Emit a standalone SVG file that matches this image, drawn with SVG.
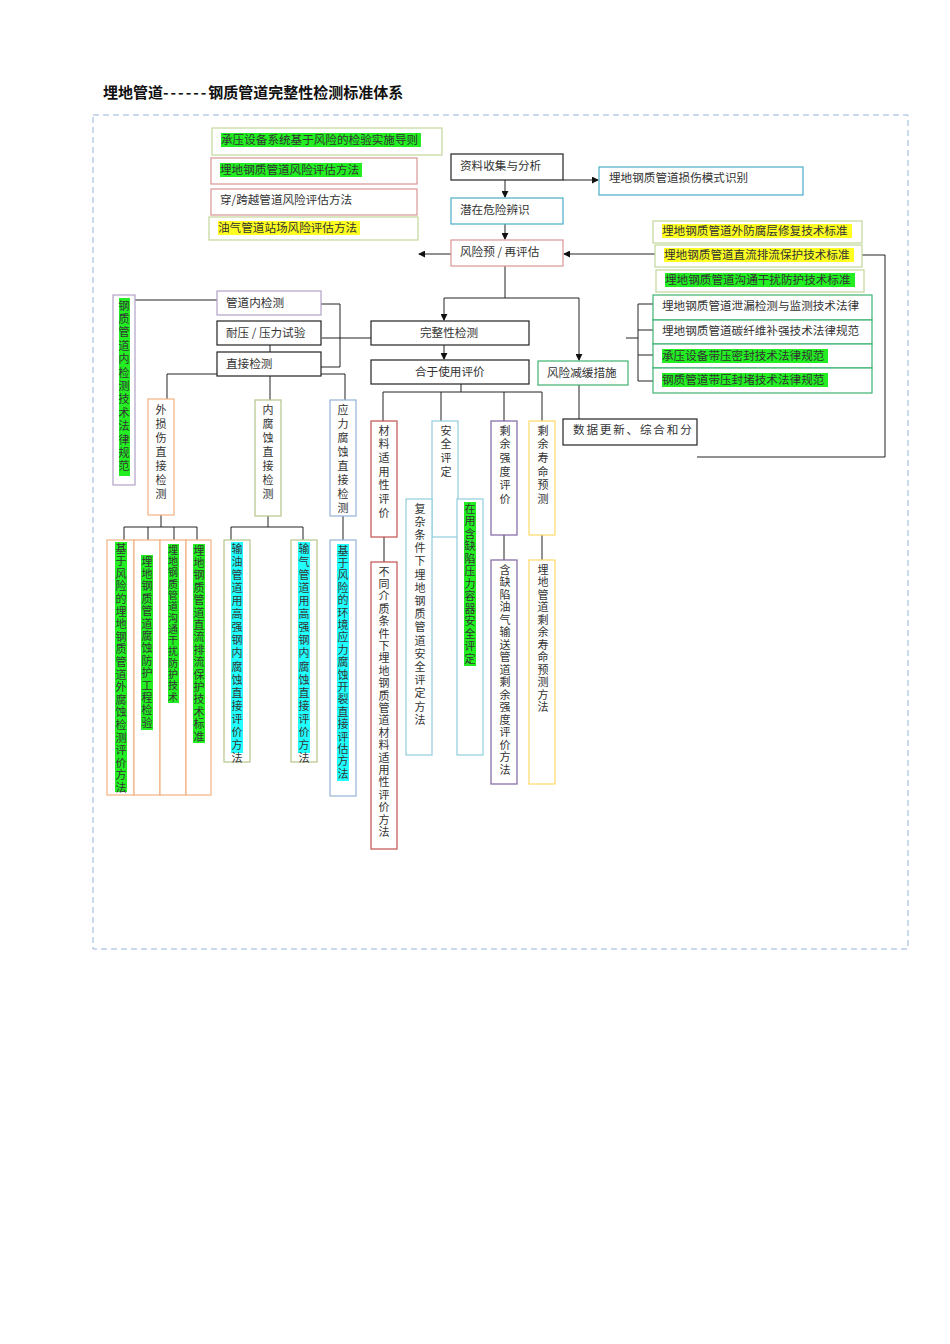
<svg xmlns="http://www.w3.org/2000/svg" width="950" height="1344" viewBox="0 0 950 1344">
<style>
text{font-family:"Noto Sans CJK SC","Liberation Sans",sans-serif;font-size:11.6px;fill:#333}
.v{writing-mode:tb;font-size:11px}
.b{fill:#fff;stroke-width:1.2}
.k{stroke:#222}.pk{stroke:#d99694}.ol{stroke:#c3d69b}.cy{stroke:#4bacc6}.la{stroke:#b3a2c7}.gr{stroke:#3cb371}
.or{stroke:#f4b183}.og{stroke:#b5c58a}.bl{stroke:#95b3d7}.rd{stroke:#c0504d}.tl{stroke:#92cddc}.pu{stroke:#8064a2}.gd{stroke:#ffd966}
.hg{fill:#22ee22}.hy{fill:#ffff22}.hc{fill:#22ffff}
#conn path,#conn line{stroke:#222;stroke-width:1;fill:none}
</style>
<defs><marker id="a" viewBox="0 0 8 8" refX="7" refY="4" markerWidth="7" markerHeight="7" orient="auto"><path d="M0,0L8,4L0,8z" fill="#111"/></marker></defs>
<rect width="950" height="1344" fill="#fff"/>
<text x="103" y="98" style="font-size:15px;font-weight:bold;fill:#111">埋地管道<tspan style="letter-spacing:2px">------</tspan>钢质管道完整性检测标准体系</text>
<rect x="93" y="115" width="815" height="834" fill="none" stroke="#95b3d7" stroke-dasharray="6,4"/>

<g id="conn">
<line x1="505" y1="180" x2="505" y2="197" marker-end="url(#a)"/>
<line x1="505" y1="224" x2="505" y2="239" marker-end="url(#a)"/>
<path d="M563,180H598" marker-end="url(#a)"/>
<line x1="451" y1="254" x2="419" y2="254" marker-end="url(#a)"/>
<line x1="655" y1="254" x2="564" y2="254" marker-end="url(#a)"/>
<path d="M862,255H885V457H697"/>
<path d="M505,266V298M444,298H579"/>
<line x1="444" y1="298" x2="444" y2="320" marker-end="url(#a)"/>
<line x1="579" y1="298" x2="579" y2="360" marker-end="url(#a)"/>
<line x1="444" y1="345" x2="444" y2="359" marker-end="url(#a)"/>
<path d="M579,385V419"/>
<path d="M626,338H638M653,304H638V381H653M638,330H653M638,355H653"/>
<path d="M322,338H371"/>
<path d="M321,304H340V367H321M270,345V352"/>
<path d="M217,300H124"/>
<line x1="124" y1="300" x2="124" y2="309" marker-end="url(#a)"/>
<path d="M217,374H167V399M270,376V400M321,374H345V400"/>
<path d="M161,515V527M124,527H197M124,527V540M148,527V540M174,527V540M197,527V540"/>
<path d="M268,516V527M231,527H303M231,527V540M303,527V540"/>
<path d="M343,516V540"/>
<path d="M461,372V392M383,392H542M383,392V421M441,392V421M504,392V421M542,392V421"/>
<path d="M384,537V562M504,535V560M542,535V560M416,507H467"/>
</g>

<g id="n1"><rect class="b ol" x="212" y="128" width="230" height="27"/><rect class="hg" x="221" y="133" width="200" height="14"/><text x="221" y="144">承压设备系统基于风险的检验实施导则</text></g>
<g id="n2"><rect class="b pk" x="211" y="158" width="206" height="26"/><rect class="hg" x="220" y="163" width="142" height="14"/><text x="220" y="174">埋地钢质管道风险评估方法</text></g>
<g id="n3"><rect class="b pk" x="211" y="189" width="206" height="26"/><text x="220" y="204">穿/跨越管道风险评估方法</text></g>
<g id="n4"><rect class="b ol" x="209" y="217" width="209" height="23"/><rect class="hy" x="218" y="221" width="142" height="14"/><text x="218" y="232">油气管道站场风险评估方法</text></g>
<g id="n5"><rect class="b k" x="451" y="154" width="112" height="26"/><text x="460" y="170">资料收集与分析</text></g>
<g id="n6"><rect class="b cy" x="451" y="198" width="112" height="26"/><text x="460" y="214">潜在危险辨识</text></g>
<g id="n7"><rect class="b pk" x="451" y="240" width="112" height="26"/><text x="460" y="256">风险预 / 再评估</text></g>
<g id="n8"><rect class="b cy" x="599" y="167" width="204" height="28"/><text x="609" y="182">埋地钢质管道损伤模式识别</text></g>
<g id="n9"><rect class="b ol" x="653" y="221" width="209" height="22"/><rect class="hy" x="662" y="224" width="190" height="14"/><text x="662" y="235">埋地钢质管道外防腐层修复技术标准</text></g>
<g id="n10"><rect class="b ol" x="655" y="245" width="207" height="22"/><rect class="hy" x="664" y="248" width="190" height="14"/><text x="664" y="259">埋地钢质管道直流排流保护技术标准</text></g>
<g id="n11"><rect class="b ol" x="656" y="270" width="208" height="22"/><rect class="hg" x="665" y="273" width="190" height="14"/><text x="665" y="284">埋地钢质管道沟通干扰防护技术标准</text></g>
<g id="n12"><rect class="b gr" x="653" y="295" width="219" height="25"/><text x="662" y="310">埋地钢质管道泄漏检测与监测技术法律</text></g>
<g id="n13"><rect class="b gr" x="653" y="320" width="219" height="24"/><text x="662" y="335">埋地钢质管道碳纤维补强技术法律规范</text></g>
<g id="n14"><rect class="b gr" x="653" y="344" width="219" height="24"/><rect class="hg" x="662" y="349" width="166" height="14"/><text x="662" y="360">承压设备带压密封技术法律规范</text></g>
<g id="n15"><rect class="b gr" x="653" y="368" width="219" height="25"/><rect class="hg" x="662" y="373" width="166" height="14"/><text x="662" y="384">钢质管道带压封堵技术法律规范</text></g>
<g id="n16"><rect class="b k" x="371" y="321" width="158" height="24"/><text x="420" y="337">完整性检测</text></g>
<g id="n17"><rect class="b k" x="371" y="360" width="158" height="24"/><text x="415" y="376">合于使用评价</text></g>
<g id="n18"><rect class="b gr" x="538" y="361" width="90" height="24"/><text x="547" y="377">风险减缓措施</text></g>
<g id="n19"><rect class="b k" x="563" y="419" width="134" height="26"/><text x="573" y="434" style="letter-spacing:1.8px">数据更新、综合和分</text></g>
<g id="n20"><rect class="b la" x="217" y="291" width="104" height="24"/><text x="226" y="307">管道内检测</text></g>
<g id="n21"><rect class="b k" x="217" y="321" width="104" height="24"/><text x="226" y="337">耐压 / 压力试验</text></g>
<g id="n22"><rect class="b k" x="217" y="352" width="104" height="24"/><text x="226" y="368">直接检测</text></g>

<g id="n23"><rect class="b la" x="113" y="295" width="22" height="190"/><rect class="hg" x="119" y="298" width="11" height="178"/><text class="v" x="124" y="300" style="letter-spacing:2.4px">钢质管道内检测技术法律规范</text></g>
<g id="n24"><rect class="b or" x="148" y="399" width="26" height="116"/><text class="v" x="161" y="404" style="letter-spacing:3px">外损伤直接检测</text></g>
<g id="n25"><rect class="b og" x="255" y="400" width="26" height="116"/><text class="v" x="268" y="404" style="letter-spacing:3px">内腐蚀直接检测</text></g>
<g id="n26"><rect class="b bl" x="330" y="400" width="26" height="116"/><text class="v" x="343" y="404" style="letter-spacing:3px">应力腐蚀直接检测</text></g>
<g id="n27"><rect class="b or" x="107" y="540" width="27" height="255"/><rect class="hg" x="115" y="542" width="12" height="250"/><text class="v" x="121" y="543" style="letter-spacing:1.6px">基于风险的埋地钢质管道外腐蚀检测评价方法</text></g>
<g id="n28"><rect class="b or" x="134" y="540" width="26" height="255"/><rect class="hg" x="141" y="555" width="12" height="175"/><text class="v" x="147" y="556" style="letter-spacing:1.4px">埋地钢质管道腐蚀防护工程检验</text></g>
<g id="n29"><rect class="b or" x="160" y="540" width="26" height="255"/><rect class="hg" x="168" y="544" width="11" height="159"/><text class="v" x="173" y="545" style="font-size:10px;letter-spacing:1.3px">埋地钢质管道沟通干扰防护技术</text></g>
<g id="n30"><rect class="b or" x="186" y="540" width="25" height="255"/><rect class="hg" x="193" y="544" width="12" height="199"/><text class="v" x="199" y="545" style="letter-spacing:1.4px">埋地钢质管道直流排流保护技术标准</text></g>
<g id="n31"><rect class="b og" x="224" y="540" width="26" height="222"/><rect class="hc" x="231" y="542" width="12" height="211"/><text class="v" x="237" y="543" style="letter-spacing:2.1px">输油管道用高强钢内腐蚀直接评价方法</text></g>
<g id="n32"><rect class="b og" x="291" y="540" width="26" height="222"/><rect class="hc" x="298" y="542" width="12" height="211"/><text class="v" x="304" y="543" style="letter-spacing:2.1px">输气管道用高强钢内腐蚀直接评价方法</text></g>
<g id="n33"><rect class="b bl" x="330" y="540" width="26" height="256"/><rect class="hc" x="337" y="544" width="12" height="237"/><text class="v" x="343" y="545" style="letter-spacing:1.4px">基于风险的环境应力腐蚀开裂直接评估方法</text></g>
<g id="n34"><rect class="b rd" x="371" y="421" width="26" height="116"/><text class="v" x="384" y="425" style="letter-spacing:2.7px">材料适用性评价</text></g>
<g id="n35"><rect class="b rd" x="371" y="562" width="26" height="287"/><text class="v" x="384" y="566" style="letter-spacing:1.4px">不同介质条件下埋地钢质管道材料适用性评价方法</text></g>
<g id="n36"><rect class="b tl" x="432" y="421" width="26" height="116"/><text class="v" x="446" y="425" style="letter-spacing:2.7px">安全评定</text></g>
<g id="n37"><rect class="b tl" x="406" y="499" width="26" height="256"/><text class="v" x="420" y="503" style="letter-spacing:2.2px">复杂条件下埋地钢质管道安全评定方法</text></g>
<g id="n38"><rect class="b tl" x="457" y="499" width="26" height="256"/><rect class="hg" x="464" y="502" width="12" height="164"/><text class="v" x="470" y="503" style="letter-spacing:1.5px">在用含缺陷压力容器安全评定</text></g>
<g id="n39"><rect class="b pu" x="491" y="421" width="26" height="114"/><text class="v" x="505" y="425" style="letter-spacing:2.7px">剩余强度评价</text></g>
<g id="n40"><rect class="b pu" x="491" y="560" width="26" height="224"/><text class="v" x="505" y="564" style="letter-spacing:1.5px">含缺陷油气输送管道剩余强度评价方法</text></g>
<g id="n41"><rect class="b gd" x="529" y="421" width="26" height="114"/><text class="v" x="543" y="425" style="letter-spacing:2.7px">剩余寿命预测</text></g>
<g id="n42"><rect class="b gd" x="529" y="560" width="26" height="224"/><text class="v" x="543" y="564" style="letter-spacing:1.5px">埋地管道剩余寿命预测方法</text></g>
</svg>
